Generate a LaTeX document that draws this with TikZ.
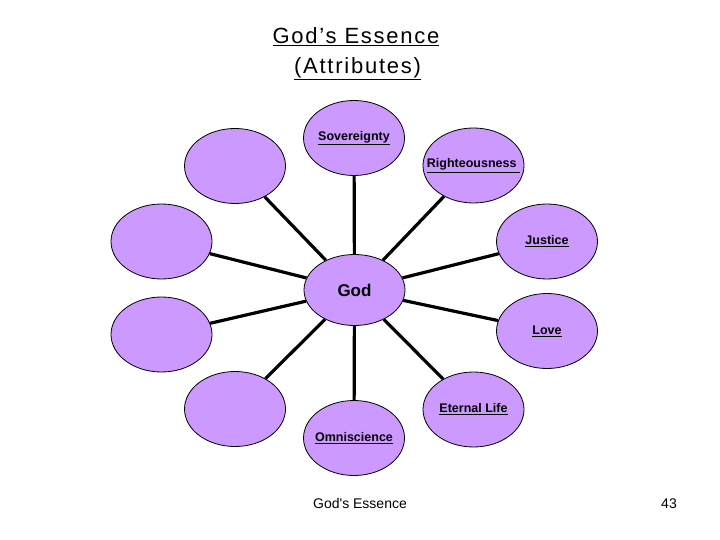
\documentclass[tikz,border=0pt]{standalone}
\usepackage{fontspec}
\setmainfont{Liberation Sans}
\newfontfamily\titlefont[LetterSpace=8]{Liberation Sans}
\usetikzlibrary{shapes.geometric}
\definecolor{bubble}{RGB}{204,153,255}
\newcommand\bublabel[1]{\makebox[0pt][c]{\underline{#1}}}
\begin{document}
\begin{tikzpicture}[x=1bp,y=-1bp,
  bubble/.style={ellipse,draw=black,line width=0.8bp,fill=bubble,inner sep=0pt,
    minimum width=101bp,minimum height=75bp,
    font=\fontsize{12.5bp}{15bp}\selectfont\bfseries},
  link/.style={line width=3.2bp,black},
  title/.style={font=\titlefont\fontsize{22bp}{24bp}\selectfont,anchor=base},
  foot/.style={font=\fontsize{14bp}{16bp}\selectfont,anchor=base}]
\useasboundingbox (0,0) rectangle (720,540);
\node[title] (t1) at (356,43.5) {\underline{God’s Essence}};
\node[title] (t2) at (357.5,73.5) {\underline{(Attributes)}};
% nodes
\node[bubble,minimum height=71bp,font=\fontsize{17bp}{19bp}\selectfont\bfseries] (god) at (354.5,290) {God};
\node[bubble] (sov) at (354,138) {\bublabel{Sovereignty}};
\node[bubble] (rig) at (473.5,165.5) {\bublabel{Righteousness\ }};
\node[bubble] (jus) at (547,241.5) {\bublabel{Justice}};
\node[bubble] (lov) at (547,331) {\bublabel{Love}};
\node[bubble] (ete) at (473.5,409.5) {\bublabel{Eternal Life}};
\node[bubble] (omn) at (354,438) {\bublabel{Omniscience}};
\node[bubble] (lbl) at (235,409) {};
\node[bubble] (lml) at (161.5,334.5) {};
\node[bubble] (lmu) at (161.5,241.5) {};
\node[bubble] (lul) at (235,166) {};
% connectors
\foreach \n in {sov,rig,jus,lov,ete,omn,lbl,lml,lmu,lul}
  \draw[link] (god) -- (\n);
% footer
\node[foot] (f1) at (360,508) {God\textquotesingle s Essence};
\node[foot] (f2) at (669,508) {43};
\end{tikzpicture}
\end{document}
